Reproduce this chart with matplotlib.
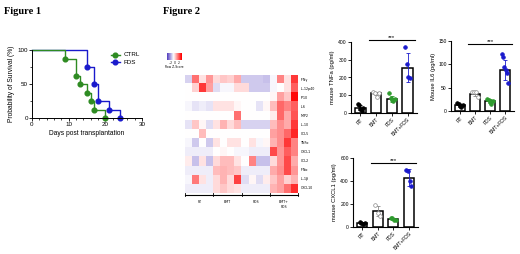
import numpy as np
import matplotlib
matplotlib.use("Agg")
import matplotlib.pyplot as plt
from matplotlib.colors import LinearSegmentedColormap

# ---------------- data ----------------
# Kaplan-Meier (Figure 1)
ctrl_days = [0, 9, 12, 13, 15, 16, 17, 20]
ctrl_surv = [100, 87.5, 62.5, 50, 37.5, 25, 12.5, 0]
fds_days = [0, 15, 17, 18, 21, 24]
fds_surv = [100, 75, 50, 25, 12.5, 0]

# Heatmap (Figure 2)
heat_rows = ["IFNγ", "IL-12p40", "IP10", "IL6", "MIP2", "IL-10", "CCL5",
             "TNFα", "CXCL1", "CCL2", "IFNα", "IL-1β", "CXCL10"]
heat_groups = ["RT", "BMT", "FDS", "BMT+\nFDS"]
heat_values = [
    [-0.8, 1.2, 0.0, 0.8, 0.1, 0.3, 0.2, 0.6, -0.9, -0.9, -0.9, -1.0, -0.4, 1.0, 0.0, 1.8],
    [-0.3, 0.2, 1.8, 0.7, -0.7, -0.4, -0.4, 0.1, 0.1, -0.9, -0.9, -0.9, -0.4, -0.3, 0.0, 1.4],
    [-0.3, -0.3, -0.3, -0.3, -0.3, -0.3, -0.3, -0.3, -0.3, -0.3, -0.3, -0.3, -0.2, 0.7, 0.3, 2.3],
    [-0.4, -0.6, -0.5, -0.6, 0.0, 0.0, 0.0, -0.2, -0.3, -0.3, -0.6, -0.2, 0.4, 1.3, 1.0, 1.4],
    [-0.3, -0.3, -0.3, -0.3, -0.3, -0.3, -0.3, 1.2, -0.3, -0.3, -0.3, -0.3, -0.1, 1.3, 0.6, 1.5],
    [-0.6, 0.3, -0.2, -0.7, 0.0, 0.5, 0.1, 0.4, -0.8, -0.8, -0.8, -0.8, 0.4, 0.9, 0.6, 1.8],
    [-0.3, -0.3, 0.4, -0.3, -0.3, -0.3, -0.3, -0.3, -0.3, -0.3, -0.3, -0.3, 0.7, 0.9, 1.3, 2.0],
    [-0.4, -0.9, -0.3, -0.9, 0.0, -0.3, 0.0, 0.0, -0.3, 0.0, -0.4, -0.2, 0.5, 0.9, 1.8, 1.0],
    [-0.5, -0.5, -0.5, -0.5, -0.3, -0.2, -0.3, -0.4, -0.4, -0.5, -0.5, -0.5, 1.6, 0.8, 1.4, 1.0],
    [-0.1, -1.0, 0.0, -1.0, 0.1, 0.4, 0.4, 0.0, -0.3, 1.0, -1.0, -1.0, 0.1, 0.8, 1.6, 0.6],
    [-0.5, -0.5, -0.5, -0.5, 0.4, 0.5, 0.4, 0.3, -0.5, -0.5, -0.5, -0.5, 0.6, 0.9, 1.6, 0.8],
    [-0.4, 1.1, 0.0, -0.5, 0.1, 0.5, 0.1, 1.7, -0.7, -0.2, -0.7, -0.1, 0.3, 0.7, 0.2, 0.5],
    [-0.5, -0.5, -0.5, -0.5, 0.1, 0.3, 0.1, 0.0, -0.5, -0.5, -0.5, -0.5, 0.5, 0.7, 1.2, 1.9],
]

# Bar charts (Figure 2)
bar_groups = ["RT", "BMT", "FDS", "BMT+FDS"]
tnf_mean = [30, 110, 80, 255]
tnf_sd = [15, 10, 18, 82]
tnf_pts = [[50, 45, 20, 10, 30], [120, 115, 90, 110], [110, 85, 75, 70, 80], [370, 275, 205, 195]]
il6_mean = [12, 37, 22, 88]
il6_sd = [4, 4, 4, 22]
il6_pts = [[18, 15, 10, 8, 12], [40, 40, 40, 30], [25, 23, 20, 15, 22], [122, 115, 95, 88, 82, 60]]
cxcl1_mean = [35, 140, 70, 430]
cxcl1_sd = [5, 45, 10, 75]
cxcl1_pts = [[40, 35, 30, 35], [190, 120, 100], [80, 75, 60, 65], [500, 490, 400, 360]]

# ---------------- styling ----------------
plt.rcParams['font.family'] = ['Liberation Sans', 'DejaVu Sans']
fig = plt.figure(figsize=(5.2, 2.54), dpi=100)
W, H = 520, 254

def ax_px(x0, y0, x1, y1):
    return fig.add_axes([x0 / W, 1 - y1 / H, (x1 - x0) / W, (y1 - y0) / H])

fig.text(4 / W, 1 - 11 / H, "Figure 1", fontsize=7.5, fontweight='bold',
         family=['Liberation Serif', 'DejaVu Serif'], va='center')
fig.text(163 / W, 1 - 11 / H, "Figure 2", fontsize=7.5, fontweight='bold',
         family=['Liberation Serif', 'DejaVu Serif'], va='center')

# ---------------- Kaplan-Meier ----------------
green = '#2e8b22'
blue = '#1a1acc'
ms_km = 3.4
ax = ax_px(32, 50, 142, 118)
ax.step(fds_days, fds_surv, where='post', color=blue, lw=1.0, clip_on=False)
ax.plot(fds_days[1:], fds_surv[1:], 'o', color=blue, ms=ms_km, clip_on=False)
ax.step(ctrl_days, ctrl_surv, where='post', color=green, lw=1.0, clip_on=False)
ax.plot(ctrl_days[1:], ctrl_surv[1:], 'o', color=green, ms=ms_km, clip_on=False)
ax.set_xlim(0, 30)
ax.set_ylim(0, 100)
ax.set_xticks([0, 10, 20, 30])
ax.set_xticks(np.arange(0, 31, 2), minor=True)
ax.set_yticks([0, 50, 100])
ax.set_yticks([25, 75], minor=True)
for s in ['top', 'right']:
    ax.spines[s].set_visible(False)
for s in ['left', 'bottom']:
    ax.spines[s].set_linewidth(0.7)
ax.tick_params(labelsize=4.5, width=0.6, length=2, pad=1)
ax.tick_params(which='minor', width=0.5, length=1.2)
ax.set_xlabel("Days post transplantation", fontsize=4.8, labelpad=2)
ax.set_ylabel("Probability of Survival (%)", fontsize=4.8, labelpad=2)
ax.plot([21.5, 24], [93, 93], color=green, lw=1.0, clip_on=False)
ax.plot([22.75], [93], 'o', color=green, ms=ms_km, clip_on=False)
ax.text(25, 93, "CTRL", fontsize=4.5, va='center')
ax.plot([21.5, 24], [82, 82], color=blue, lw=1.0, clip_on=False)
ax.plot([22.75], [82], 'o', color=blue, ms=ms_km, clip_on=False)
ax.text(25, 82, "FDS", fontsize=4.5, va='center')

# ---------------- Heatmap ----------------
cmap = LinearSegmentedColormap.from_list("rz", ['#2a10b0', '#ffffff', '#ff0000'])
hm = np.array(heat_values)
hax = ax_px(185, 75, 298, 193)
hax.imshow(hm, cmap=cmap, vmin=-3, vmax=2.4, aspect='auto', interpolation='nearest')
hax.set_xticks([])
hax.set_yticks([])
for s in hax.spines.values():
    s.set_visible(False)
ncol = hm.shape[1]
for i, lab in enumerate(heat_rows):
    hax.text(ncol - 0.5 + 0.4, i, lab, fontsize=2.3, va='center', ha='left',
             family=['DejaVu Sans'])
nrow = hm.shape[0]
ybr = nrow - 0.5 + 0.2
hax.plot([-0.5, ncol - 0.5], [ybr, ybr], color='black', lw=0.8, clip_on=False)
for k in range(5):
    xk = -0.5 + 4 * k
    hax.plot([xk, xk], [ybr - 0.25, ybr + 0.1], color='black', lw=0.6, clip_on=False)
for g, lab in enumerate(heat_groups):
    hax.text(1.5 + 4 * g, ybr + 0.6, lab, fontsize=2.3, ha='center', va='top',
             family=['DejaVu Sans'], linespacing=1.1)
hax.set_xlim(-0.5, ncol - 0.5)
hax.set_ylim(nrow - 0.5, -0.5)

# colour key
cax = ax_px(167, 53, 182, 60)
cax.imshow(np.linspace(-2.5, 2.5, 60)[None, :], cmap=cmap, vmin=-3, vmax=2.4,
           aspect='auto', extent=[-2.5, 2.5, 0, 1])
cax.set_xticks([])
cax.set_yticks([])
for s in cax.spines.values():
    s.set_visible(False)
fig.text(174.5 / W, 1 - 63 / H, "-2  0  2", fontsize=2.2, ha='center', va='center',
         family=['DejaVu Sans'])
fig.text(174.5 / W, 1 - 66.5 / H, "Row Z-Score", fontsize=2.2, ha='center', va='center',
         family=['DejaVu Sans'])

# ---------------- Bar charts ----------------
pt_colors = ['black', '#8a8a8a', '#2e9b2e', '#1a1acc']
pt_face = ['black', 'white', '#2e9b2e', '#1a1acc']

def bar_panel(rect, means, sds, pts, ymax, yticks, ylabel, sig_y):
    a = ax_px(*rect)
    x = np.arange(len(bar_groups))
    a.bar(x, means, width=0.65, color='white', edgecolor='black', linewidth=1.1, zorder=2)
    for i in x:
        a.errorbar(i, means[i], yerr=sds[i], color=pt_colors[i], capsize=1.5,
                   elinewidth=0.6, capthick=0.6, zorder=3)
        p = pts[i]
        offs = np.linspace(-0.17, 0.17, len(p))
        a.scatter(i + offs, p, s=7, color=pt_face[i], edgecolors=pt_colors[i],
                  linewidths=0.5, zorder=4, clip_on=False)
    a.set_xlim(-0.6, 3.6)
    a.set_ylim(0, ymax)
    a.set_yticks(yticks)
    a.set_xticks(x)
    a.set_xticklabels(bar_groups, rotation=45, ha='right', rotation_mode='anchor')
    for s in ['top', 'right']:
        a.spines[s].set_visible(False)
    for s in ['left', 'bottom']:
        a.spines[s].set_linewidth(0.8)
    a.tick_params(labelsize=3.6, width=0.6, length=2, pad=1)
    a.set_ylabel(ylabel, fontsize=4.2, labelpad=2)
    a.plot([0.55, 3.45], [sig_y, sig_y], color='black', lw=0.8, clip_on=False)
    a.text(2.0, sig_y, "***", fontsize=4.5, ha='center', va='bottom')
    return a

bar_panel((351, 42, 417, 113), tnf_mean, tnf_sd, tnf_pts, 400, [0, 100, 200, 300, 400],
          "mouse TNFa (pg/ml)", 410)
bar_panel((451, 41, 514, 111), il6_mean, il6_sd, il6_pts, 150, [0, 50, 100, 150],
          "Mouse IL6 (pg/ml)", 143)
bar_panel((353, 158, 418, 227), cxcl1_mean, cxcl1_sd, cxcl1_pts, 600, [0, 200, 400, 600],
          "mouse CXCL1 (pg/ml)", 560)

fig.savefig("out.png", dpi=100)
